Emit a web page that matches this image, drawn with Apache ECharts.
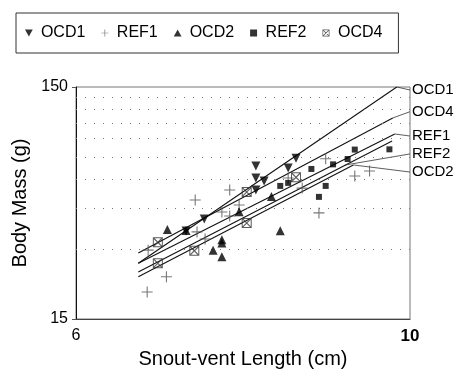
<!DOCTYPE html>
<html>
<head>
<meta charset="utf-8">
<script src="https://cdn.jsdelivr.net/npm/echarts@6/dist/echarts.min.js"></script>
<style>
  html, body { margin: 0; padding: 0; background: #fff; }
  #chart { width: 454px; height: 381px; }
</style>
</head>
<body>
<div id="chart"></div>
<script>
// group names, in legend order
const groups = ['OCD1', 'REF1', 'OCD2', 'REF2', 'OCD4'];

// measured points (snout-vent length cm, body mass g)
const ocd1X = [7.10, 7.30, 7.90, 7.90, 8.00, 7.90, 8.30, 8.40];
const ocd1Y = [35.9, 40.5, 68.5, 60.8, 59.0, 54.0, 67.1, 73.9];

const ref1X = [6.69, 6.70, 6.89, 7.20, 7.22, 7.31, 7.50, 7.59, 7.59, 7.70, 8.30, 8.48, 8.70, 8.79, 9.19, 9.40];
const ref1Y = [19.6, 29.7, 22.8, 48.9, 35.6, 33.2, 43.4, 54.0, 41.7, 46.5, 60.8, 55.0, 43.0, 73.6, 62.0, 65.2];

const ocd2X = [6.90, 7.10, 7.40, 7.50, 7.50, 7.50, 7.70, 8.09, 8.20];
const ocd2Y = [36.5, 36.1, 29.7, 32.9, 31.9, 27.8, 43.5, 50.6, 36.0];

const ref2X = [8.20, 8.30, 8.60, 8.70, 8.79, 8.89, 9.09, 9.19, 9.69];
const ref2Y = [56.2, 57.9, 66.5, 50.4, 56.2, 69.6, 73.4, 80.6, 80.8];

const ocd4X = [6.80, 6.80, 7.19, 7.79, 7.79, 8.40];
const ocd4Y = [32.1, 26.1, 29.5, 52.9, 38.9, 61.2];

// fitted lines: start / end of each group's regression
const fitStartX = [6.60, 6.60, 6.60, 6.60, 6.60];
const fitStartY = [26.1, 26.1, 22.8, 23.9, 28.9];
const fitEndX = [9.80, 9.77, 9.17, 9.73, 9.74];
const fitEndY = [150, 94.1, 69.2, 87.8, 110.3];

// leader lines from a fit line to its label at the right edge
const leaderFromX = [9.80, 9.77, 9.17, 9.05, 9.74];
const leaderFromY = [150, 94.1, 69.2, 69.1, 110.3];
const leaderLabelY = [145.6, 92.2, 64.5, 77.2, 117.4];

// axis values
const xTicks = [6, 10];
const yTicks = [15, 150];
const yGridValues = [30, 45, 60, 75, 90, 105, 120, 135];

const FONT = '"Liberation Sans", Arial, sans-serif';

const DOWN_TRI = 'path://M0,0H10L5,9Z';
const UP_TRI = 'path://M5,0L10,9H0Z';
const PLUS = 'path://M4.5,0H5.5V4.5H10V5.5H5.5V10H4.5V5.5H0V4.5H4.5Z';
const SQUARE = 'path://M0,0H10V10H0Z';
const BOX_X = 'path://M0,0H10V10H0Z M1,1V9H9V1Z M1,1L1.8,1L9,8.2L9,9L8.2,9L1,1.8Z M9,1L9,1.8L1.8,9L1,9L1,8.2L8.2,1Z';

const pointSets = [
  { x: ocd1X, y: ocd1Y, symbol: DOWN_TRI, size: 9, color: '#000' },
  { x: ref1X, y: ref1Y, symbol: PLUS, size: 11, color: '#555' },
  { x: ocd2X, y: ocd2Y, symbol: UP_TRI, size: 9, color: '#000' },
  { x: ref2X, y: ref2Y, symbol: SQUARE, size: 6, color: '#000' },
  { x: ocd4X, y: ocd4Y, symbol: BOX_X, size: 10, color: '#333' }
];

function zip(xs, ys) {
  return xs.map((v, i) => [v, ys[i]]);
}

function createOption() {
  const series = [];

  groups.forEach((name, i) => {
    const p = pointSets[i];
    const s = {
      name: name,
      type: 'scatter',
      data: zip(p.x, p.y),
      symbol: p.symbol,
      symbolSize: p.size,
      itemStyle: { color: p.color },
      z: 5
    };
    if (i === 0) {
      s.markLine = {
        silent: true,
        symbol: ['none', 'none'],
        label: { show: false },
        lineStyle: { type: [1, 8], color: '#777', width: 1 },
        data: yGridValues.map(v => ({ yAxis: v })),
        animation: false
      };
    }
    series.push(s);
  });

  groups.forEach((name, i) => {
    series.push({
      name: name + ' fit',
      type: 'line',
      data: [[fitStartX[i], fitStartY[i]], [fitEndX[i], fitEndY[i]]],
      symbol: 'none',
      lineStyle: { color: '#111', width: 1.1 },
      z: 3
    });
    series.push({
      name: name + ' label',
      type: 'line',
      data: [[leaderFromX[i], leaderFromY[i]], [10, leaderLabelY[i]]],
      symbol: 'none',
      clip: false,
      lineStyle: { color: '#333', width: 0.8 },
      endLabel: {
        show: true,
        formatter: name,
        distance: 2,
        fontFamily: FONT,
        fontSize: 15,
        color: '#000'
      },
      z: 3
    });
  });

  return {
    animation: false,
    textStyle: { fontFamily: FONT },
    legend: {
      data: [
        { name: 'OCD1', icon: DOWN_TRI },
        { name: 'REF1', icon: PLUS },
        { name: 'OCD2', icon: UP_TRI },
        { name: 'REF2', icon: SQUARE },
        { name: 'OCD4', icon: BOX_X }
      ],
      left: 16,
      top: 13,
      itemWidth: 14,
      itemHeight: 7,
      itemGap: 16,
      padding: [12, 16, 12, 9],
      borderColor: '#333',
      borderWidth: 1,
      textStyle: { fontFamily: FONT, fontSize: 16, color: '#000' }
    },
    grid: {
      left: 76,
      right: 44,
      top: 87,
      bottom: 62,
      show: true,
      borderColor: '#777',
      borderWidth: 1
    },
    xAxis: {
      type: 'log',
      logBase: 6,
      min: xTicks[0],
      max: xTicks[1],
      name: 'Snout-vent Length (cm)',
      nameLocation: 'middle',
      nameGap: 29,
      nameTextStyle: { fontFamily: FONT, fontSize: 20, color: '#000' },
      splitLine: { show: false },
      axisTick: { show: false },
      axisLine: { lineStyle: { color: '#444' } },
      axisLabel: {
        margin: 9,
        fontSize: 16,
        color: '#000',
        showMinLabel: true,
        showMaxLabel: true,
        formatter: v => {
          const r = Math.round(v);
          return r === xTicks[1] ? '{b|' + r + '}' : String(r);
        },
        rich: { b: { fontWeight: 'bold', fontSize: 17, fontFamily: FONT, color: '#000' } }
      }
    },
    yAxis: {
      type: 'log',
      logBase: 15,
      min: yTicks[0],
      max: yTicks[1],
      name: 'Body Mass (g)',
      nameLocation: 'middle',
      nameGap: 36,
      nameTextStyle: { fontFamily: FONT, fontSize: 20, color: '#000' },
      splitLine: { show: false },
      axisTick: { show: true, length: 4, lineStyle: { color: '#555' } },
      axisLine: { show: true, lineStyle: { color: '#111' } },
      axisLabel: {
        margin: 8,
        fontSize: 16,
        color: '#000',
        showMinLabel: true,
        showMaxLabel: true,
        formatter: v => String(Math.round(v))
      }
    },
    series: series
  };
}

function initChart() {
  const el = document.getElementById('chart');
  const chart = echarts.init(el, null, { renderer: 'canvas' });
  chart.setOption(createOption());
  window.addEventListener('resize', () => chart.resize());
}

initChart();
</script>
</body>
</html>
